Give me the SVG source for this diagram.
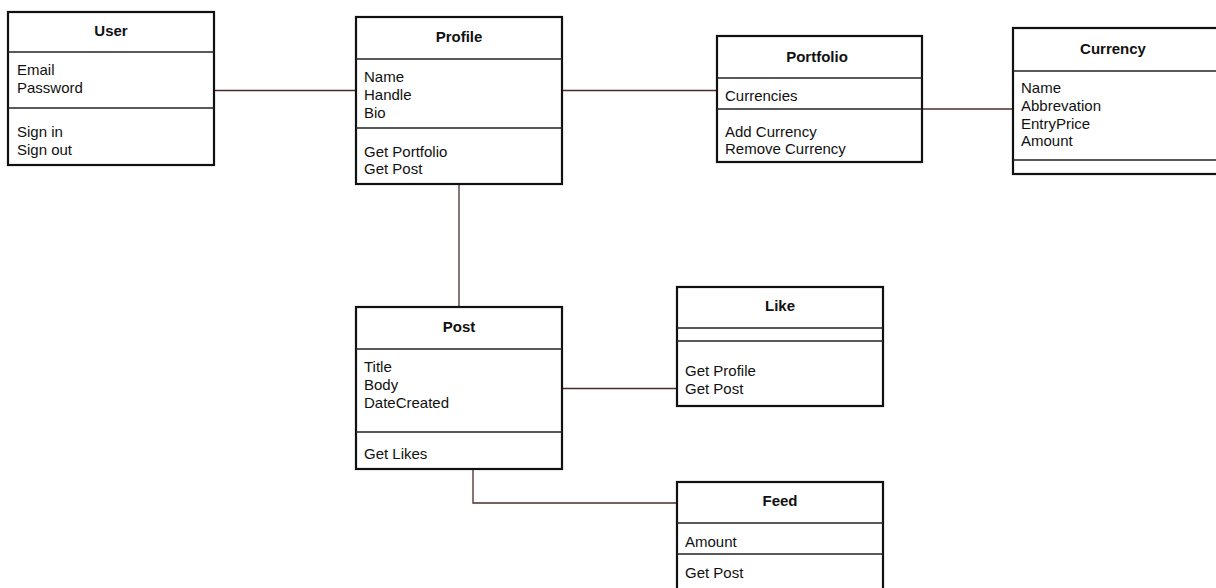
<svg xmlns="http://www.w3.org/2000/svg" width="1216" height="588" viewBox="0 0 1216 588">
<style>
.box{fill:#fff;stroke:#111;stroke-width:2.2}
.div{stroke:#222;stroke-width:1.3;fill:none}
.conn{stroke:#4a2c2c;stroke-width:1.3;fill:none}
text{font-family:"Liberation Sans",Arial,Helvetica,sans-serif;font-size:15px;fill:#111}
.h{font-weight:bold;text-anchor:middle}
</style>
<rect width="1216" height="588" fill="#fff"/>
<g id="connectors">
<line class="conn" x1="214" y1="90.5" x2="356" y2="90.5"/>
<line class="conn" x1="562" y1="90.5" x2="717" y2="90.5"/>
<line class="conn" x1="922" y1="109" x2="1013" y2="109"/>
<line class="conn" x1="459" y1="184" x2="459" y2="307"/>
<line class="conn" x1="562" y1="388.5" x2="677" y2="388.5"/>
<polyline class="conn" points="473,469 473,503 677,503"/>
</g>
<g id="user">
<rect class="box" x="8" y="12" width="206" height="153"/>
<line class="div" x1="8" y1="52" x2="214" y2="52"/>
<line class="div" x1="8" y1="108" x2="214" y2="108"/>
<text class="h" x="111" y="36">User</text>
<text x="17" y="75">Email</text>
<text x="17" y="93">Password</text>
<text x="17" y="137">Sign in</text>
<text x="17" y="155">Sign out</text>
</g>
<g id="profile">
<rect class="box" x="356" y="17" width="206" height="167"/>
<line class="div" x1="356" y1="59" x2="562" y2="59"/>
<line class="div" x1="356" y1="128" x2="562" y2="128"/>
<text class="h" x="459" y="42">Profile</text>
<text x="364" y="82">Name</text>
<text x="364" y="100">Handle</text>
<text x="364" y="118">Bio</text>
<text x="364" y="157">Get Portfolio</text>
<text x="364" y="174">Get Post</text>
</g>
<g id="portfolio">
<rect class="box" x="717" y="36" width="205" height="126"/>
<line class="div" x1="717" y1="78" x2="922" y2="78"/>
<line class="div" x1="717" y1="109" x2="922" y2="109"/>
<text class="h" x="817" y="62">Portfolio</text>
<text x="725" y="101">Currencies</text>
<text x="725" y="137">Add Currency</text>
<text x="725" y="154">Remove Currency</text>
</g>
<g id="currency">
<rect class="box" x="1013" y="28" width="212" height="146"/>
<line class="div" x1="1013" y1="71" x2="1225" y2="71"/>
<line class="div" x1="1013" y1="160" x2="1225" y2="160"/>
<text class="h" x="1113" y="54">Currency</text>
<text x="1021" y="93">Name</text>
<text x="1021" y="111">Abbrevation</text>
<text x="1021" y="129">EntryPrice</text>
<text x="1021" y="146">Amount</text>
</g>
<g id="post">
<rect class="box" x="356" y="307" width="206" height="162"/>
<line class="div" x1="356" y1="349" x2="562" y2="349"/>
<line class="div" x1="356" y1="432" x2="562" y2="432"/>
<text class="h" x="459" y="332">Post</text>
<text x="364" y="372">Title</text>
<text x="364" y="390">Body</text>
<text x="364" y="408">DateCreated</text>
<text x="364" y="459">Get Likes</text>
</g>
<g id="like">
<rect class="box" x="677" y="287" width="206" height="119"/>
<line class="div" x1="677" y1="328" x2="883" y2="328"/>
<line class="div" x1="677" y1="341" x2="883" y2="341"/>
<text class="h" x="780" y="311">Like</text>
<text x="685" y="376">Get Profile</text>
<text x="685" y="394">Get Post</text>
</g>
<g id="feed">
<rect class="box" x="677" y="482" width="206" height="120"/>
<line class="div" x1="677" y1="523" x2="883" y2="523"/>
<line class="div" x1="677" y1="554" x2="883" y2="554"/>
<text class="h" x="780" y="506">Feed</text>
<text x="685" y="547">Amount</text>
<text x="685" y="578">Get Post</text>
</g>
</svg>
